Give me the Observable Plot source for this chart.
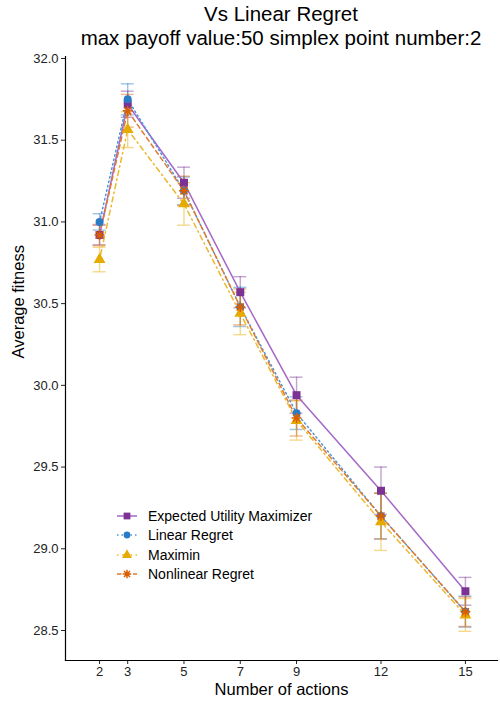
<!DOCTYPE html>
<html><head><meta charset="utf-8">
<script src="https://cdn.jsdelivr.net/npm/d3@7"></script>
<script src="https://cdn.jsdelivr.net/npm/@observablehq/plot@0.6"></script>
<style>
body{margin:0;background:#fff;font-family:"Liberation Sans",Arial,sans-serif;}
#wrap{position:relative;width:500px;height:703px;}
#title{height:50px;width:500px;position:relative;}
#title div{position:absolute;left:65px;width:432px;text-align:center;color:#000;white-space:nowrap;line-height:1;}
#legend{position:absolute;left:116px;top:506px;font-size:14px;color:#000;}
#legend .row{height:19.5px;display:flex;align-items:center;}
#legend svg{margin-right:10px;}
</style></head>
<body><div id="wrap">
<div id="title"><div style="top:4px;font-size:20.5px">Vs Linear Regret</div><div style="top:28px;font-size:20.5px">max payoff value:50 simplex point number:2</div></div>
<div id="chart"></div>
<div id="legend"></div>
</div>
<script>
const actions = [2, 3, 5, 7, 9, 12, 15];
const seriesNames = ["Expected Utility Maximizer", "Linear Regret", "Maximin", "Nonlinear Regret"];
const eumMean = [30.92, 31.72, 31.24, 30.57, 29.94, 29.355, 28.74];
const eumSe   = [0.06, 0.08, 0.095, 0.095, 0.11, 0.145, 0.085];
const lrMean  = [31.00, 31.75, 31.19, 30.48, 29.83, 29.20, 28.615];
const lrSe    = [0.05, 0.095, 0.085, 0.12, 0.10, 0.14, 0.095];
const mmMean  = [30.77, 31.565, 31.11, 30.44, 29.785, 29.165, 28.595];
const mmSe    = [0.075, 0.11, 0.13, 0.13, 0.12, 0.175, 0.10];
const nlrMean = [30.92, 31.68, 31.19, 30.48, 29.80, 29.20, 28.615];
const nlrSe   = [0.065, 0.10, 0.09, 0.11, 0.11, 0.14, 0.09];
const yTicks = [28.5, 29.0, 29.5, 30.0, 30.5, 31.0, 31.5, 32.0];

const colors = ["#7B3294", "#2A7BC6", "#E6AB02", "#D95F02"];
const lineColors = ["#A567C8", "#4C95D8", "#EBB830", "#E07A30"];
const dashes = [null, "1.5 3", "1.5 3.5 5 3.5", "4.5 3.5"];
const star = {draw(ctx, size){const r=Math.sqrt(size/Math.PI);const d=r*Math.SQRT1_2;
  ctx.moveTo(-r,0);ctx.lineTo(r,0);ctx.moveTo(0,-r);ctx.lineTo(0,r);
  ctx.moveTo(-d,-d);ctx.lineTo(d,d);ctx.moveTo(-d,d);ctx.lineTo(d,-d);}};
const symbols = ["square", "circle", "triangle", star];
const radii = [4.5, 4, 4.4, 5];

const means = [eumMean, lrMean, mmMean, nlrMean];
const ses = [eumSe, lrSe, mmSe, nlrSe];
const tables = seriesNames.map((s, i) => actions.map((a, j) => ({series: s, x: a, y: means[i][j], lo: means[i][j] - ses[i][j], hi: means[i][j] + ses[i][j]})));

const capHalf = 0.23;
const marks = [];
tables.forEach((t, i) => {
  marks.push(Plot.ruleX(t, {x: "x", y1: "lo", y2: "hi", stroke: colors[i], strokeOpacity: 0.45, strokeWidth: 1.4}));
  marks.push(Plot.ruleY(t, {y: "lo", x1: d => d.x - capHalf, x2: d => d.x + capHalf, stroke: colors[i], strokeOpacity: 0.45, strokeWidth: 1.4}));
  marks.push(Plot.ruleY(t, {y: "hi", x1: d => d.x - capHalf, x2: d => d.x + capHalf, stroke: colors[i], strokeOpacity: 0.45, strokeWidth: 1.4}));
});
tables.forEach((t, i) => {
  marks.push(Plot.line(t, {x: "x", y: "y", stroke: lineColors[i], strokeWidth: 1.5, strokeDasharray: dashes[i]}));
});
tables.forEach((t, i) => {
  if (i === 3) marks.push(Plot.dot(t, {x: "x", y: "y", symbol: () => star, r: radii[i], stroke: colors[i], fill: "none", strokeWidth: 1.5}));
  else marks.push(Plot.dot(t, {x: "x", y: "y", symbol: () => symbols[i], r: radii[i], fill: colors[i], stroke: "none"}));
});

const plot = Plot.plot({
  width: 500, height: 653,
  marginLeft: 65, marginRight: 3, marginTop: 6, marginBottom: 43,
  style: {fontFamily: "Liberation Sans, Arial, sans-serif", color: "#000", background: "#fff"},
  x: {domain: [0.79, 16.14]},
  y: {domain: [28.3164, 32.0122]},
  symbol: {type: "identity"},
  marks: [
    Plot.axisY({ticks: yTicks, tickSize: 4, tickPadding: 3, tickFormat: d => d.toFixed(1), fontSize: 13, label: null, color: "#222"}),
    Plot.axisX({ticks: actions, tickSize: 4, tickPadding: 2, tickFormat: d => String(d), fontSize: 13, label: null, color: "#222"}),
    Plot.frame({anchor: "left", stroke: "#000", strokeWidth: 1.2}),
    Plot.frame({anchor: "bottom", stroke: "#000", strokeWidth: 1.2}),
    ...marks,
    Plot.text(["Average fitness"], {frameAnchor: "left", rotate: -90, dx: -47, fontSize: 16.5, fill: "#000"}),
    Plot.text(["Number of actions"], {frameAnchor: "bottom", dy: 34, fontSize: 16.5, fill: "#000"})
  ]
});
document.getElementById("chart").appendChild(plot);

// legend
const leg = d3.select("#legend");
seriesNames.forEach((s, i) => {
  const row = leg.append("div").attr("class", "row");
  const svg = row.append("svg").attr("width", 22).attr("height", 14);
  svg.append("line").attr("x1", 1).attr("x2", 21).attr("y1", 7).attr("y2", 7)
    .attr("stroke", lineColors[i]).attr("stroke-width", 1.5).attr("stroke-dasharray", dashes[i] || null);
  const sym = i === 3 ? star : (i === 0 ? d3.symbolSquare : i === 1 ? d3.symbolCircle : d3.symbolTriangle);
  const r = radii[i] * 0.85;
  const path = d3.symbol(sym, Math.PI * r * r)();
  const p = svg.append("path").attr("d", path).attr("transform", "translate(11,7)");
  if (i === 3) p.attr("fill", "none").attr("stroke", colors[i]).attr("stroke-width", 1.5);
  else p.attr("fill", colors[i]);
  row.append("span").text(s);
});
</script>
</body></html>
